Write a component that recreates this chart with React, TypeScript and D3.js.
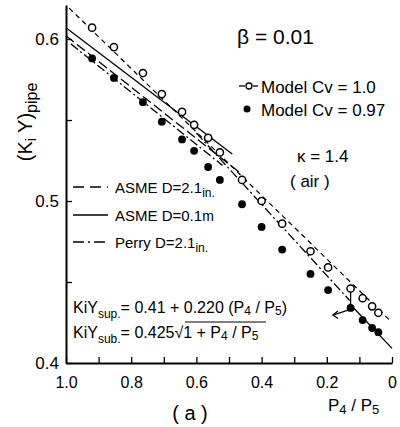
import React, { useEffect, useRef } from "react";
import * as d3 from "d3";

// P4/P5 values of the measured points
const pRatio = [0.92, 0.853, 0.764, 0.706, 0.644, 0.607, 0.564, 0.528, 0.46, 0.4, 0.337, 0.25, 0.196, 0.127, 0.09, 0.061, 0.042];
// Model Cv = 1.0 (open circles)
const modelCv100 = [0.607, 0.595, 0.579, 0.566, 0.555, 0.547, 0.539, 0.53, 0.513, 0.5, 0.486, 0.469, 0.459, 0.446, 0.44, 0.435, 0.431];
// Model Cv = 0.97 (filled circles)
const modelCv097 = [0.588, 0.576, 0.561, 0.549, 0.538, 0.531, 0.521, 0.513, 0.498, 0.484, 0.47, 0.455, 0.445, 0.434, 0.4265, 0.4216, 0.419];

// reference lines (P4/P5, KiY)
const modelFitP = [0.99, 0.005];
const modelFitY = [0.619, 0.426];
const asme01P = [1.0, 0.49];
const asme01Y = [0.607, 0.529];
const asme21P = [1.0, 0.47];
const asme21Y = [0.602, 0.518];
const perryP = [0.985, 0.52];
const perryY = [0.597, 0.522];
const supP = [0.6, 0.13];
const supY = [0.542, 0.4386];
const subP = [0.13, 0.0];
const subY = [0.4366, 0.409];
const criticalP = [0.127, 0.127];
const criticalY = [0.446, 0.434];
const arrowP = [0.135, 0.181];
const arrowY = [0.4327, 0.4296];

const xTicks = [1.0, 0.9, 0.8, 0.7, 0.6, 0.5, 0.4, 0.3, 0.2, 0.1, 0.0];
const xTickLabels = ["1.0", "", "0.8", "", "0.6", "", "0.4", "", "0.2", "", "0"];
const yTicks = [0.4, 0.45, 0.5, 0.55, 0.6];
const yTickLabels = ["0.4", "", "0.5", "", "0.6"];

const FONT = "'Liberation Sans', Arial, sans-serif";

export default function App() {
  const xAxisRef = useRef<SVGGElement>(null);
  const yAxisRef = useRef<SVGGElement>(null);

  const x = d3.scaleLinear().domain([1, 0]).range([66, 392]);
  const y = d3.scaleLinear().domain([0.4, 0.621]).range([363, 5]);

  useEffect(() => {
    const xa = d3
      .axisBottom(x)
      .tickValues(xTicks)
      .tickSizeInner(-6)
      .tickSizeOuter(0)
      .tickPadding(14)
      .tickFormat((d, i) => xTickLabels[i]);
    const g = d3.select(xAxisRef.current!);
    g.call(xa as any);
    g.select(".domain").attr("stroke-width", 2).attr("stroke", "#000");
    g.selectAll(".tick line").attr("stroke-width", 1.3);
    g.selectAll("text").attr("font-size", 16).attr("font-family", FONT).attr("fill", "#000");

    const ya = d3
      .axisLeft(y)
      .tickValues(yTicks)
      .tickSizeInner(-6)
      .tickSizeOuter(0)
      .tickPadding(7)
      .tickFormat((d, i) => yTickLabels[i]);
    const gy = d3.select(yAxisRef.current!);
    gy.call(ya as any);
    gy.select(".domain").attr("stroke-width", 2).attr("stroke", "#000");
    gy.selectAll(".tick line").attr("stroke-width", 1.3);
    gy.selectAll("text").attr("font-size", 17).attr("font-family", FONT).attr("fill", "#000");
  }, []);

  const line = (ps: number[], ys: number[]) =>
    d3.line<number>().x((_, i) => x(ps[i])).y((v) => y(v))(ys) || "";

  return (
    <svg width={400} height={427} style={{ position: "absolute", left: 0, top: 0, background: "#fff" }}>
      <rect width={400} height={427} fill="#fff" />
      <g ref={xAxisRef} transform={`translate(0,${y(0.4)})`} />
      <g ref={yAxisRef} transform={`translate(${x(1)},0)`} />

      {/* reference lines */}
      <path d={line(modelFitP, modelFitY)} fill="none" stroke="#000" strokeWidth={1.2} strokeDasharray="5,4" />
      <path d={line(asme01P, asme01Y)} fill="none" stroke="#000" strokeWidth={1.3} />
      <path d={line(asme21P, asme21Y)} fill="none" stroke="#000" strokeWidth={1.3} strokeDasharray="10,4" />
      <path d={line(perryP, perryY)} fill="none" stroke="#000" strokeWidth={1.3} strokeDasharray="9,3,2,3" />
      <path d={line(supP, supY)} fill="none" stroke="#000" strokeWidth={1.3} strokeDasharray="9,3,2,3" />
      <path d={line(subP, subY)} fill="none" stroke="#000" strokeWidth={1.3} />
      <path d={line(criticalP, criticalY)} fill="none" stroke="#000" strokeWidth={1.3} />
      <path d={line(arrowP, arrowY)} fill="none" stroke="#000" strokeWidth={1.3} />
      <path
        d={`M${x(arrowP[1]) + 5},${y(arrowY[1]) - 4} L${x(arrowP[1])},${y(arrowY[1])} L${x(arrowP[1]) + 5},${y(arrowY[1]) + 3.5}`}
        fill="none"
        stroke="#000"
        strokeWidth={1.3}
      />

      {/* points */}
      {pRatio.map((p, i) => (
        <circle key={"o" + i} cx={x(p)} cy={y(modelCv100[i])} r={3.6} fill="#fff" stroke="#000" strokeWidth={1.5} />
      ))}
      {pRatio.map((p, i) => (
        <circle key={"f" + i} cx={x(p)} cy={y(modelCv097[i])} r={3.9} fill="#000" />
      ))}

      {/* texts */}
      <g fontFamily={FONT} fill="#000">
        <text x={237} y={44} fontSize={21}>β = 0.01</text>

        <line x1={239} y1={86} x2={245} y2={86} stroke="#000" strokeWidth={1.3} />
        <circle cx={249} cy={86} r={3} fill="#fff" stroke="#000" strokeWidth={1.3} />
        <line x1={253} y1={86} x2={258} y2={86} stroke="#000" strokeWidth={1.3} />
        <text x={261} y={93} fontSize={17}>Model Cv = 1.0</text>
        <circle cx={247} cy={109} r={3.5} fill="#000" />
        <text x={261} y={116} fontSize={17}>Model Cv = 0.97</text>

        <text x={297} y={162} fontSize={17}>κ  = 1.4</text>
        <text x={290} y={187} fontSize={17}>( air )</text>

        <line x1={73} y1={187} x2={108} y2={187} stroke="#000" strokeWidth={1.3} strokeDasharray="11,6" />
        <text x={115} y={193} fontSize={15}>
          ASME D=2.1<tspan fontSize={12} dy={4}>in.</tspan>
        </text>
        <line x1={73} y1={215} x2={108} y2={215} stroke="#000" strokeWidth={1.3} />
        <text x={115} y={221} fontSize={15}>
          ASME D=0.1<tspan fontSize={14}>m</tspan>
        </text>
        <line x1={73} y1={242} x2={108} y2={242} stroke="#000" strokeWidth={1.3} strokeDasharray="11,4,2,4" />
        <text x={115} y={248} fontSize={15}>
          Perry D=2.1<tspan fontSize={12} dy={4}>in.</tspan>
        </text>

        <text x={73} y={313} fontSize={16}>
          KiY<tspan fontSize={12} dy={5}>sup.</tspan>
          <tspan dy={-5}>= 0.41 + 0.220 (P</tspan>
          <tspan fontSize={12} dy={2}>4</tspan>
          <tspan dy={-2}> / P</tspan>
          <tspan fontSize={12} dy={2}>5</tspan>
          <tspan dy={-2}>)</tspan>
        </text>
        <text x={73} y={338} fontSize={16}>
          KiY<tspan fontSize={12} dy={5}>sub.</tspan>
          <tspan dy={-5}>= 0.425√1 + P</tspan>
          <tspan fontSize={12} dy={2}>4</tspan>
          <tspan dy={-2}> / P</tspan>
          <tspan fontSize={12} dy={2}>5</tspan>
        </text>
        <line x1={185} y1={322} x2={266} y2={322} stroke="#000" strokeWidth={1.2} />

        <text x={190} y={420} fontSize={20} textAnchor="middle">( a )</text>
        <text x={328} y={411} fontSize={17}>
          P<tspan fontSize={13} dy={3}>4</tspan>
          <tspan dy={-3}> / P</tspan>
          <tspan fontSize={13} dy={3}>5</tspan>
        </text>

        <text transform="translate(32,122) rotate(-90)" fontSize={20} textAnchor="middle">
          (K<tspan fontSize={14} dy={4}>i</tspan>
          <tspan dy={-4}> Y)</tspan>
          <tspan fontSize={16} dy={5}>pipe</tspan>
        </text>
      </g>
    </svg>
  );
}
